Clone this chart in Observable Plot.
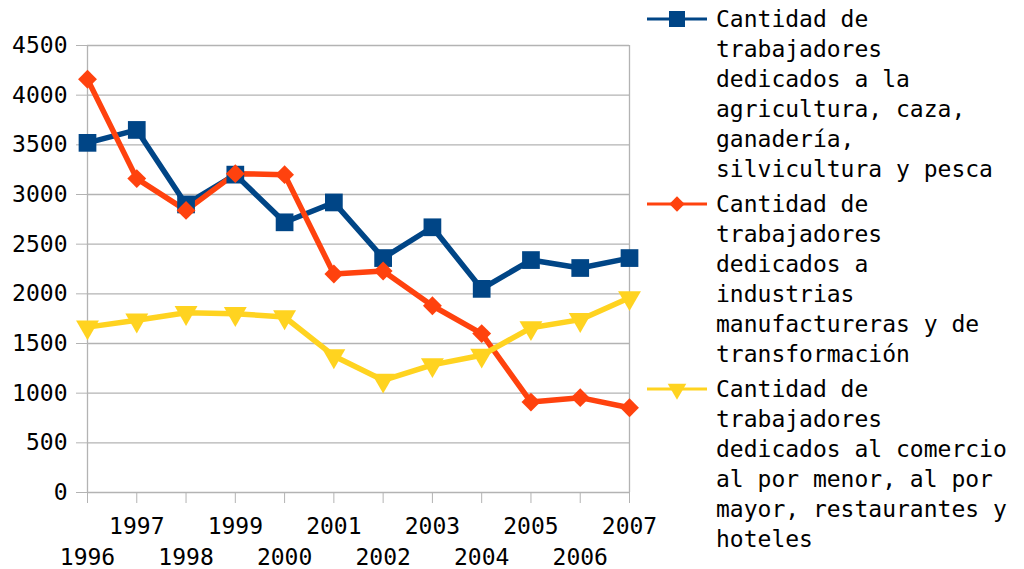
<!DOCTYPE html>
<html>
<head>
<meta charset="utf-8">
<script src="https://cdn.jsdelivr.net/npm/d3@7"></script>
<script src="https://cdn.jsdelivr.net/npm/@observablehq/plot@0.6"></script>
<style>
  html, body { margin: 0; padding: 0; background: #fff; }
  #wrap { position: relative; width: 1024px; height: 569px; overflow: hidden; font-family: "DejaVu Sans Mono", monospace; }
  .entry { position: absolute; left: 645px; font-size: 23px; line-height: 30px; color: #000; }
  .entry svg { position: absolute; left: 0; top: 0; }
  .entry .txt { position: absolute; left: 71px; top: 0; white-space: pre; }
</style>
</head>
<body>
<div id="wrap"></div>
<script>
const years = [1996, 1997, 1998, 1999, 2000, 2001, 2002, 2003, 2004, 2005, 2006, 2007];
const agricultura = [3520, 3650, 2900, 3200, 2720, 2920, 2360, 2670, 2050, 2340, 2260, 2360];
const manufactura = [4160, 3160, 2840, 3210, 3200, 2200, 2230, 1880, 1600, 910, 955, 853];
const comercio = [1665, 1735, 1810, 1800, 1767, 1375, 1130, 1285, 1381, 1658, 1740, 1960];
const yTicks = [0, 500, 1000, 1500, 2000, 2500, 3000, 3500, 4000, 4500];
const seriesNames = [
  "Cantidad de\ntrabajadores\ndedicados a la\nagricultura, caza,\nganadería,\nsilvicultura y pesca",
  "Cantidad de\ntrabajadores\ndedicados a\nindustrias\nmanufactureras y de\ntransformación",
  "Cantidad de\ntrabajadores\ndedicados al comercio\nal por menor, al por\nmayor, restaurantes y\nhoteles"
];
const colors = ["#004586", "#ff420e", "#ffd320"];

const series = [
  {name: seriesNames[0], values: agricultura, color: colors[0], symbol: "square", r: 10, rotate: 0},
  {name: seriesNames[1], values: manufactura, color: colors[1], symbol: "diamond2", r: 8.5, rotate: 0},
  {name: seriesNames[2], values: comercio, color: colors[2], symbol: "triangle", r: 8.5, rotate: 180}
];

const marks = [
  Plot.gridY(yTicks, {stroke: "#b3b3b3", strokeOpacity: 1, strokeWidth: 1.3}),
  Plot.axisY(yTicks, {tickSize: 11, tickPadding: 9, stroke: "#b3b3b3", strokeOpacity: 1, fontSize: 23, fill: "#000", tickFormat: d => String(d), label: null}),
  Plot.ruleX([1996], {stroke: "#b3b3b3", strokeWidth: 1.3}),
  Plot.ruleX([2007], {stroke: "#b3b3b3", strokeWidth: 1.3}),
  Plot.axisX(years, {tickSize: 11, stroke: "#b3b3b3", strokeOpacity: 1, tickFormat: () => "", label: null}),
  Plot.axisX(years.filter(y => y % 2 === 1), {tickSize: 0, tickPadding: 25, fontSize: 23, fill: "#000", tickFormat: d => String(d), label: null}),
  Plot.axisX(years.filter(y => y % 2 === 0), {tickSize: 0, tickPadding: 56, fontSize: 23, fill: "#000", tickFormat: d => String(d), label: null})
];

for (const s of series) {
  const data = years.map((y, i) => ({year: y, value: s.values[i]}));
  marks.push(Plot.line(data, {x: "year", y: "value", stroke: s.color, strokeWidth: 5.5, strokeLinejoin: "miter"}));
}
for (const s of series) {
  const data = years.map((y, i) => ({year: y, value: s.values[i]}));
  marks.push(Plot.dot(data, {x: "year", y: "value", symbol: s.symbol, r: s.r, fill: s.color, stroke: "none", rotate: s.rotate}));
}

const chart = Plot.plot({
  width: 1024,
  height: 569,
  marginLeft: 87,
  marginRight: 395,
  marginTop: 45,
  marginBottom: 77,
  style: {fontFamily: "DejaVu Sans Mono, monospace", fontSize: "23px", background: "transparent", overflow: "visible"},
  x: {type: "linear", domain: [1996, 2007], axis: null},
  y: {domain: [0, 4500], axis: null},
  marks
});
const wrap = document.getElementById("wrap");
wrap.appendChild(chart);

// Legend
const tops = [4, 189, 374];
series.forEach((s, i) => {
  const div = document.createElement("div");
  div.className = "entry";
  div.style.top = tops[i] + "px";
  const sym = d3.symbol().type(s.symbol === "square" ? d3.symbolSquare : s.symbol === "diamond2" ? d3.symbolDiamond2 : d3.symbolTriangle).size(s.symbol === "square" ? 256 : 150)();
  div.innerHTML = `<svg width="70" height="30"><line x1="2" x2="62" y1="15" y2="15" stroke="${s.color}" stroke-width="3"/><path d="${sym}" transform="translate(32,15) rotate(${s.rotate})" fill="${s.color}"/></svg><div class="txt"></div>`;
  div.querySelector(".txt").textContent = s.name;
  wrap.appendChild(div);
});
</script>
</body>
</html>
